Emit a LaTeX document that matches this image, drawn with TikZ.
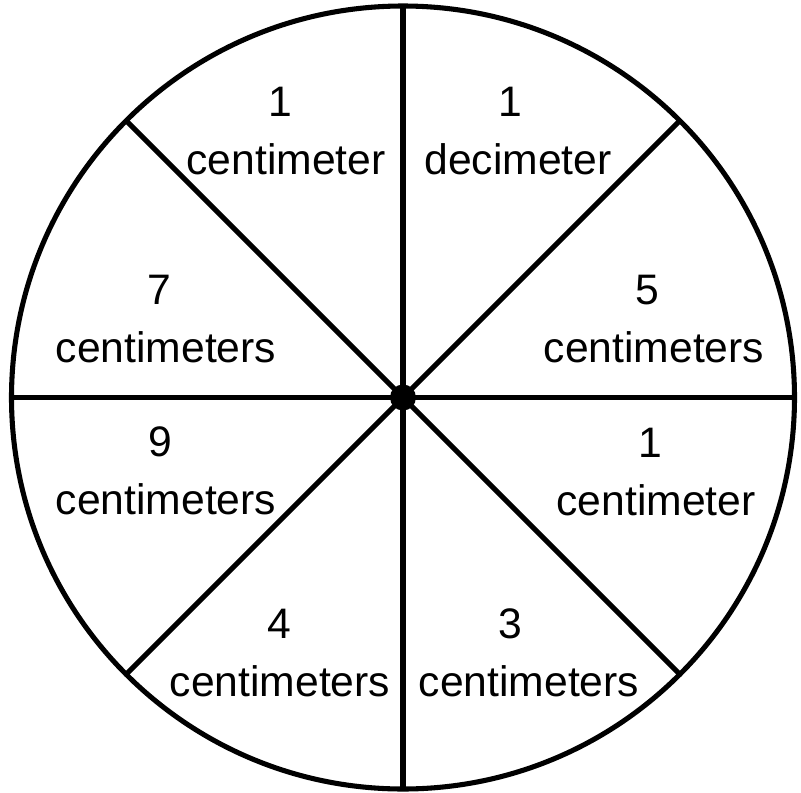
\documentclass[tikz,border=0pt]{standalone}
\usepackage{fontspec}
\setmainfont{Liberation Sans}
\begin{document}
\begin{tikzpicture}[x=0.75pt,y=-0.75pt,line width=3.8pt,
	lbl/.style={anchor=base,inner sep=0pt,font=\fontsize{32}{43}\selectfont}]
	\useasboundingbox (0,0)rectangle(801,793);
	\coordinate (O) at (403,397.5);
	\draw (O) circle (391.5);
	\foreach \a in {0,45,...,315}
	\draw (O)--++(\a:391.5);
	\fill (O) circle (13);
	\foreach \xd/\xw/\yb/\n/\w [count=\i] in {280/286/174/1/centimeter,510/518/174/1/decimeter,
	647/654/362/5/centimeters,159/166/362/7/centimeters,160/166/514/9/centimeters,
	650/656/515/1/centimeter,279/280/696/4/centimeters,510/529/696/3/centimeters}
	\path (\xw,\yb) node[lbl] (w\i) {\w} (\xd,\yb-57.3) node[lbl] (d\i) {\n};
\end{tikzpicture}
\end{document}
